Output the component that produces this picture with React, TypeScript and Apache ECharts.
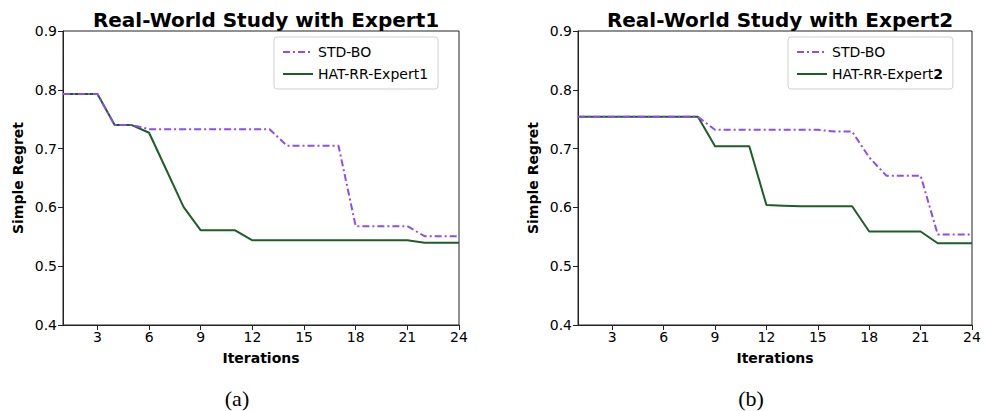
import React, { useEffect, useRef } from "react";
import * as echarts from "echarts";

const iterations = [1, 2, 3, 4, 5, 6, 7, 8, 9, 10, 11, 12, 13, 14, 15, 16, 17, 18, 19, 20, 21, 22, 23, 24];
const xTicks = [3, 6, 9, 12, 15, 18, 21, 24];

const stdBo1 = [0.793, 0.793, 0.793, 0.740, 0.740, 0.733, 0.733, 0.733, 0.733, 0.733, 0.733, 0.733, 0.733, 0.705, 0.705, 0.705, 0.705, 0.568, 0.568, 0.568, 0.568, 0.551, 0.551, 0.551];
const hatRr1 = [0.793, 0.793, 0.793, 0.740, 0.740, 0.727, 0.664, 0.601, 0.561, 0.561, 0.561, 0.544, 0.544, 0.544, 0.544, 0.544, 0.544, 0.544, 0.544, 0.544, 0.544, 0.540, 0.540, 0.540];

const stdBo2 = [0.754, 0.754, 0.754, 0.754, 0.754, 0.754, 0.754, 0.754, 0.732, 0.732, 0.732, 0.732, 0.732, 0.732, 0.732, 0.729, 0.729, 0.685, 0.654, 0.654, 0.654, 0.554, 0.554, 0.554];
const hatRr2 = [0.754, 0.754, 0.754, 0.754, 0.754, 0.754, 0.754, 0.754, 0.704, 0.704, 0.704, 0.604, 0.603, 0.602, 0.602, 0.602, 0.602, 0.559, 0.559, 0.559, 0.559, 0.539, 0.539, 0.539];

const titles = ["Real-World Study with Expert1", "Real-World Study with Expert2"];
const captions = ["(a)", "(b)"];

const PURPLE = "#8c4cf9";
const GREEN = "#1d5e27";
const FONT = "DejaVu Sans";

const pairs = (ys: number[]) => iterations.map((x, i) => [x, ys[i]]);

export default function App() {
  const ref = useRef<HTMLDivElement>(null);
  useEffect(() => {
    if (!ref.current) return;
    const chart = echarts.init(ref.current, null, { renderer: "svg" });
    const grids = [
      { left: 63, top: 31, width: 396, height: 294 },
      { left: 578, top: 31, width: 394, height: 294 },
    ];
    const xAxis = grids.map((_, i) => ({
      type: "value",
      gridIndex: i,
      min: 1,
      max: 24,
      name: "Iterations",
      nameLocation: "middle",
      nameGap: 26,
      nameTextStyle: { fontFamily: FONT, fontSize: 14, fontWeight: "bold", color: "#000" },
      axisLine: { show: true, lineStyle: { color: "#222", width: 1 } },
      axisTick: { show: true, length: 5, customValues: xTicks, lineStyle: { color: "#222" } },
      axisLabel: { customValues: xTicks, fontFamily: FONT, fontSize: 14, color: "#000", margin: 5 },
      splitLine: { show: false },
    }));
    const yAxis = grids.map((_, i) => ({
      type: "value",
      gridIndex: i,
      min: 0.4,
      max: 0.9,
      interval: 0.1,
      name: "Simple Regret",
      nameLocation: "middle",
      nameGap: 38,
      nameTextStyle: { fontFamily: FONT, fontSize: 14, fontWeight: "bold", color: "#000" },
      axisLine: { show: true, lineStyle: { color: "#222", width: 1 } },
      axisTick: { show: true, length: 5, lineStyle: { color: "#222" } },
      axisLabel: {
        fontFamily: FONT,
        fontSize: 14,
        color: "#000",
        margin: 6,
        formatter: (v: number) => v.toFixed(1),
      },
      splitLine: { show: false },
    }));
    const lineSeries = (name: string, ys: number[], idx: number, dashed: boolean) => ({
      type: "line",
      name,
      xAxisIndex: idx,
      yAxisIndex: idx,
      data: pairs(ys),
      symbol: "none",
      z: dashed ? 3 : 2,
      lineStyle: {
        color: dashed ? PURPLE : GREEN,
        width: 2,
        type: dashed ? [7, 3, 2, 3] : "solid",
      },
      itemStyle: { color: dashed ? PURPLE : GREEN },
    });
    const legendBase = {
      orient: "vertical",
      top: 37,
      padding: [8, 10, 8, 8],
      itemGap: 8,
      itemWidth: 30,
      itemHeight: 14,
      borderColor: "#d0d0d0",
      borderWidth: 1,
      borderRadius: 3,
      backgroundColor: "#fff",
      itemStyle: { opacity: 0 },
      textStyle: {
        fontFamily: FONT,
        fontSize: 14,
        color: "#000",
        rich: {
          a: { fontFamily: FONT, fontSize: 14, color: "#000" },
          b: { fontFamily: FONT, fontSize: 14, color: "#000", fontWeight: "bold" },
        },
      },
      selectedMode: false,
    };
    chart.setOption({
      animation: false,
      backgroundColor: "#fff",
      title: titles.map((t, i) => ({
        text: t,
        left: grids[i].left + grids[i].width / 2,
        top: 5,
        textAlign: "center",
        textStyle: { fontFamily: FONT, fontSize: 20, fontWeight: "bold", color: "#000" },
      })),
      grid: grids.map((g) => ({ ...g, show: true, borderColor: "#222", borderWidth: 1, backgroundColor: "transparent" })),
      xAxis,
      yAxis,
      legend: [
        { ...legendBase, left: 274, data: ["STD-BO", "HAT-RR-Expert1"] },
        {
          ...legendBase,
          left: 788,
          data: ["STD-BO", "HAT-RR-Expert2"],
          formatter: (n: string) => (n === "HAT-RR-Expert2" ? "{a|HAT-RR-Expert}{b|2}" : "{a|" + n + "}"),
        },
      ],
      graphic: captions.map((c, i) => ({
        type: "text",
        x: grids[i].left + grids[i].width / 2 - 24,
        y: 398,
        style: {
          text: c,
          fontFamily: "Liberation Serif",
          fontSize: 22,
          fill: "#000",
          align: "center",
          verticalAlign: "middle",
        },
      })),
      series: [
        lineSeries("HAT-RR-Expert1", hatRr1, 0, false),
        lineSeries("STD-BO", stdBo1, 0, true),
        lineSeries("HAT-RR-Expert2", hatRr2, 1, false),
        lineSeries("STD-BO", stdBo2, 1, true),
      ],
    });
    return () => chart.dispose();
  }, []);
  return (
    <div
      ref={ref}
      style={{ position: "fixed", left: 0, top: 0, width: 985, height: 411, overflow: "hidden", background: "#fff" }}
    />
  );
}
